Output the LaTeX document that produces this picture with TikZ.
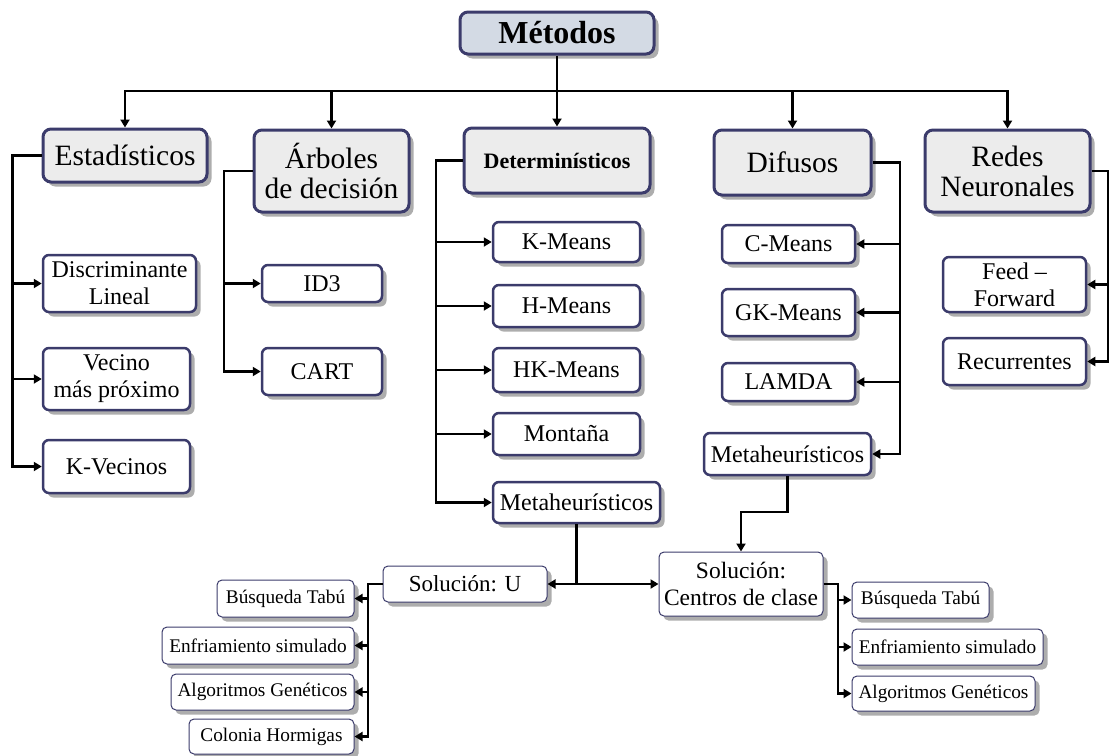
\documentclass[tikz,border=0pt]{standalone}
\usepackage{fontspec}
\setmainfont{Liberation Serif}
\usetikzlibrary{arrows.meta,shadows}
\definecolor{navy}{HTML}{3B3B6B}
\definecolor{tfill}{HTML}{D3DAE4}
\definecolor{gfill}{HTML}{ECECEC}
\begin{document}
\begin{tikzpicture}[x=1pt,y=-1pt,
 base/.style={draw=navy, align=center, inner sep=0pt,
   drop shadow={shadow xshift=4.5pt,shadow yshift=-4.5pt,fill=black!32,opacity=1}},
 big/.style={base, rounded corners=8pt, fill=gfill, line width=3pt, font=\fontsize{29.5}{30}\selectfont},
 med/.style={base, rounded corners=6pt, fill=white, line width=2.5pt, font=\fontsize{24}{27}\selectfont},
 sml/.style={base, rounded corners=5pt, fill=white, line width=1pt, font=\fontsize{19.3}{21}\selectfont},
 conn/.style={line width=2.6pt},
 arr/.style={conn, -{Triangle[length=8pt,width=9pt]}}
]
\useasboundingbox (0,0) rectangle (1111,755);

% top level
\node[big, fill=tfill, minimum width=194pt, minimum height=42pt, font=\fontsize{32}{34}\selectfont\bfseries] (metodos) at (557,33) {Métodos};
\node[big, minimum width=164pt, minimum height=53pt] (est) at (125,155.5) {Estadísticos};
\node[big, minimum width=155pt, minimum height=82pt] (arb) at (331.5,171) {Árboles\\de decisión};
\node[big, minimum width=186pt, minimum height=65pt, font=\fontsize{22}{24}\selectfont\bfseries] (det) at (557,160.5) {Determinísticos};
\node[big, minimum width=157pt, minimum height=65pt] (dif) at (792.5,162.5) {Difusos};
\node[big, minimum width=165pt, minimum height=82pt] (redes) at (1007.5,171) {Redes\\Neuronales};

% Estadisticos children
\node[med, minimum width=153pt, minimum height=57pt] (disc) at (119.5,283.5) {Discriminante\\Lineal};
\node[med, minimum width=147pt, minimum height=62pt] (vec) at (116.5,379) {Vecino\\más próximo};
\node[med, minimum width=147pt, minimum height=53pt] (kvec) at (116.5,466.5) {K-Vecinos};

% Arboles children
\node[med, minimum width=120pt, minimum height=37pt] (id3) at (322,283.5) {ID3};
\node[med, minimum width=120pt, minimum height=47pt] (cart) at (322,371.5) {CART};

% Deterministicos children
\node[med, minimum width=147pt, minimum height=40pt] (kmeans) at (566.5,242) {K-Means};
\node[med, minimum width=147pt, minimum height=42pt] (hmeans) at (566.5,306) {H-Means};
\node[med, minimum width=147pt, minimum height=44pt] (hkmeans) at (566.5,370) {HK-Means};
\node[med, minimum width=147pt, minimum height=42pt] (montana) at (566.5,434) {Montaña};
\node[med, minimum width=167pt, minimum height=41pt] (metadet) at (576.5,502.5) {Metaheurísticos};

% Difusos children
\node[med, minimum width=133pt, minimum height=38pt] (cmeans) at (788.5,244) {C-Means};
\node[med, minimum width=133pt, minimum height=47pt] (gkmeans) at (788.5,312.5) {GK-Means};
\node[med, minimum width=133pt, minimum height=38pt] (lamda) at (788.5,382) {LAMDA};
\node[med, minimum width=167pt, minimum height=42pt] (metadif) at (787.5,454) {Metaheurísticos};

% Redes children
\node[med, minimum width=143pt, minimum height=55pt] (feed) at (1014.5,284.5) {Feed –\\Forward};
\node[med, minimum width=143pt, minimum height=47pt] (recur) at (1014.5,361.5) {Recurrentes};

% Solutions
\node[sml, minimum width=164pt, minimum height=36pt, font=\fontsize{23}{25}\selectfont] (solu) at (465,584) {Solución: U};
\node[sml, minimum width=164pt, minimum height=64pt, font=\fontsize{23.5}{27}\selectfont] (solc) at (741,584) {Solución:\\Centros de clase};

\node[sml, minimum width=137pt, minimum height=37pt] (bt1) at (285.5,598.5) {Búsqueda Tabú};
\node[sml, minimum width=192pt, minimum height=37pt] (en1) at (258,645.5) {Enfriamiento simulado};
\node[sml, minimum width=183pt, minimum height=36pt] (ag1) at (262.5,692) {Algoritmos Genéticos};
\node[sml, minimum width=165pt, minimum height=35pt] (co1) at (271.5,736.5) {Colonia Hormigas};

\node[sml, minimum width=137pt, minimum height=36pt] (bt2) at (920.5,600) {Búsqueda Tabú};
\node[sml, minimum width=191pt, minimum height=36pt] (en2) at (947.5,647) {Enfriamiento simulado};
\node[sml, minimum width=183pt, minimum height=35pt] (ag2) at (943.5,693.5) {Algoritmos Genéticos};

% coordinates
\coordinate (busY) at (0,91);
\coordinate (estX) at (12.5,0);
\coordinate (arbX) at (224,0);
\coordinate (detX) at (436,0);
\coordinate (difX) at (900,0);
\coordinate (redX) at (1108,0);
\coordinate (mdY) at (0,512);
\coordinate (suX) at (368,0);
\coordinate (scX) at (838,0);

% top bus
\draw[arr] (busY -| metodos.south) -| (est.north);
\draw[arr] (busY -| metodos.south) -| (redes.north);
\draw[arr] (metodos.south) -- (det.north);
\draw[arr] (busY -| arb.north) -- (arb.north);
\draw[arr] (busY -| dif.north) -- (dif.north);

% Estadisticos
\draw[arr] (est.west) -- (est.west -| estX) |- (kvec.west);
\draw[arr] (disc.west -| estX) -- (disc.west);
\draw[arr] (vec.west -| estX) -- (vec.west);

% Arboles
\draw[arr] (arb.west) -- (arb.west -| arbX) |- (cart.west);
\draw[arr] (id3.west -| arbX) -- (id3.west);

% Deterministicos
\draw[arr] (det.west) -- (det.west -| detX) |- (metadet.west);
\draw[arr] (kmeans.west -| detX) -- (kmeans.west);
\draw[arr] (hmeans.west -| detX) -- (hmeans.west);
\draw[arr] (hkmeans.west -| detX) -- (hkmeans.west);
\draw[arr] (montana.west -| detX) -- (montana.west);

% Difusos
\draw[arr] (dif.east) -- (dif.east -| difX) |- (metadif.east);
\draw[arr] (cmeans.east -| difX) -- (cmeans.east);
\draw[arr] (gkmeans.east -| difX) -- (gkmeans.east);
\draw[arr] (lamda.east -| difX) -- (lamda.east);

% Redes
\draw[arr] (redes.east) -- (redes.east -| redX) |- (recur.east);
\draw[arr] (feed.east -| redX) -- (feed.east);

% Metaheuristicos -> soluciones
\draw[conn] (metadet.south) -- (metadet.south |- solu.east);
\draw[arr] (metadet.south |- solu.east) -- (solu.east);
\draw[arr] (metadet.south |- solc.west) -- (solc.west);
\draw[arr] (metadif.south) -- (metadif.south |- mdY) -| (solc.north);

% Solucion U
\draw[arr] (solu.west) -- (solu.west -| suX) |- (co1.east);
\draw[arr] (bt1.east -| suX) -- (bt1.east);
\draw[arr] (en1.east -| suX) -- (en1.east);
\draw[arr] (ag1.east -| suX) -- (ag1.east);

% Solucion centros
\draw[arr] (solc.east) -- (solc.east -| scX) |- (ag2.west);
\draw[arr] (bt2.west -| scX) -- (bt2.west);
\draw[arr] (en2.west -| scX) -- (en2.west);
\end{tikzpicture}
\end{document}
